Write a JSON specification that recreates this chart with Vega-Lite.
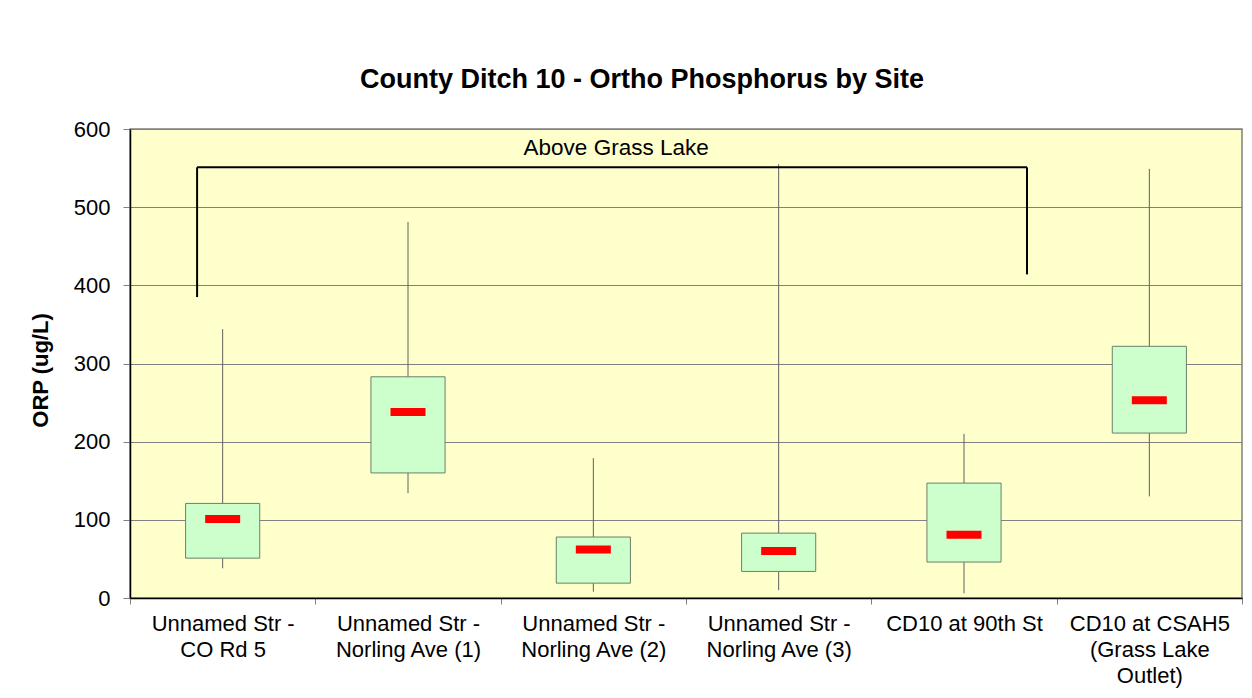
{
  "$schema": "https://vega.github.io/schema/vega-lite/v6.json",
  "width": 1112,
  "height": 469,
  "autosize": {"type": "none"},
  "padding": {"left": 130, "top": 129, "right": 10, "bottom": 100},
  "background": "white",
  "title": {
    "text": "County Ditch 10 - Ortho Phosphorus by Site",
    "font": "Liberation Sans",
    "fontSize": 27,
    "fontWeight": "bold",
    "color": "black",
    "anchor": "middle",
    "baseline": "bottom",
    "offset": -3,
    "dx": -44
  },
  "config": {
    "view": {"stroke": "#808080", "fill": "#FFFFCC", "strokeWidth": 1.5},
    "font": "Liberation Sans"
  },
  "datasets": {
    "boxes": [
      {"site": "Unnamed Str -|CO Rd 5", "low": 38, "q1": 51, "median": 101, "q3": 121, "high": 344},
      {"site": "Unnamed Str -|Norling Ave (1)", "low": 134, "q1": 160, "median": 238, "q3": 283, "high": 481},
      {"site": "Unnamed Str -|Norling Ave (2)", "low": 8, "q1": 19, "median": 62, "q3": 78, "high": 179},
      {"site": "Unnamed Str -|Norling Ave (3)", "low": 10, "q1": 34, "median": 60, "q3": 83, "high": 555},
      {"site": "CD10 at 90th St", "low": 6, "q1": 46, "median": 81, "q3": 147, "high": 210},
      {"site": "CD10 at CSAH5|(Grass Lake|Outlet)", "low": 130, "q1": 211, "median": 253, "q3": 322, "high": 549}
    ],
    "bracket": [
      {"x": 0.362, "x2": 0.362, "y": 551, "y2": 385},
      {"x": 0.362, "x2": 4.84, "y": 551, "y2": 551},
      {"x": 4.84, "x2": 4.84, "y": 551, "y2": 414}
    ],
    "label": [
      {"x": 2.623, "y": 576, "text": "Above Grass Lake"}
    ]
  },
  "layer": [
    {
      "data": {"name": "boxes"},
      "encoding": {
        "x": {
          "field": "site",
          "type": "nominal",
          "sort": null,
          "scale": {"paddingInner": 0, "paddingOuter": 0},
          "axis": {
            "title": null,
            "labelAngle": 0,
            "labelExpr": "split(datum.label, '|')",
            "labelFontSize": 22,
            "labelColor": "black",
            "labelLineHeight": 26,
            "labelPadding": 9,
            "labelLimit": 300,
            "tickBand": "extent",
            "tickSize": 6,
            "tickColor": "#808080",
            "domainColor": "black",
            "domainWidth": 1.5,
            "grid": false
          }
        }
      },
      "layer": [
        {
          "mark": {"type": "rule", "color": "#606060", "strokeWidth": 1},
          "encoding": {
            "y": {
              "field": "low",
              "type": "quantitative",
              "scale": {"domain": [0, 600], "nice": false},
              "axis": {
                "values": [0, 100, 200, 300, 400, 500, 600],
                "title": "ORP (ug/L)",
                "titleFont": "Liberation Sans",
                "titleFontSize": 22,
                "titleFontWeight": "bold",
                "titleColor": "black",
                "titleX": -90,
                "titleY": 241,
                "titleAngle": -90,
                "titleAlign": "center",
                "titleBaseline": "middle",
                "labelFontSize": 22,
                "labelColor": "black",
                "labelPadding": 13,
                "tickSize": 7,
                "tickColor": "#808080",
                "domainColor": "black",
                "domainWidth": 1.5,
                "gridColor": "#808080",
                "gridOpacity": 1,
                "gridWidth": 1
              }
            },
            "y2": {"field": "high"}
          }
        },
        {
          "mark": {"type": "bar", "fill": "#CCFFCC", "stroke": "#6a806a", "strokeWidth": 1, "width": {"band": 0.4}},
          "encoding": {
            "y": {"field": "q1", "type": "quantitative"},
            "y2": {"field": "q3"}
          }
        },
        {
          "mark": {"type": "tick", "color": "#FF0000", "size": 35, "thickness": 8, "opacity": 1},
          "encoding": {
            "y": {"field": "median", "type": "quantitative"}
          }
        }
      ]
    },
    {
      "data": {"name": "bracket"},
      "mark": {"type": "rule", "color": "black", "strokeWidth": 2},
      "encoding": {
        "x": {"field": "x", "type": "quantitative", "scale": {"domain": [0, 6], "nice": false, "zero": false}, "axis": null},
        "x2": {"field": "x2"},
        "y": {"field": "y", "type": "quantitative"},
        "y2": {"field": "y2"}
      }
    },
    {
      "data": {"name": "label"},
      "mark": {"type": "text", "fontSize": 22.5, "color": "black", "baseline": "middle", "align": "center"},
      "encoding": {
        "x": {"field": "x", "type": "quantitative", "scale": {"domain": [0, 6], "nice": false, "zero": false}, "axis": null},
        "y": {"field": "y", "type": "quantitative"},
        "text": {"field": "text"}
      }
    }
  ],
  "resolve": {"scale": {"x": "independent"}}
}
